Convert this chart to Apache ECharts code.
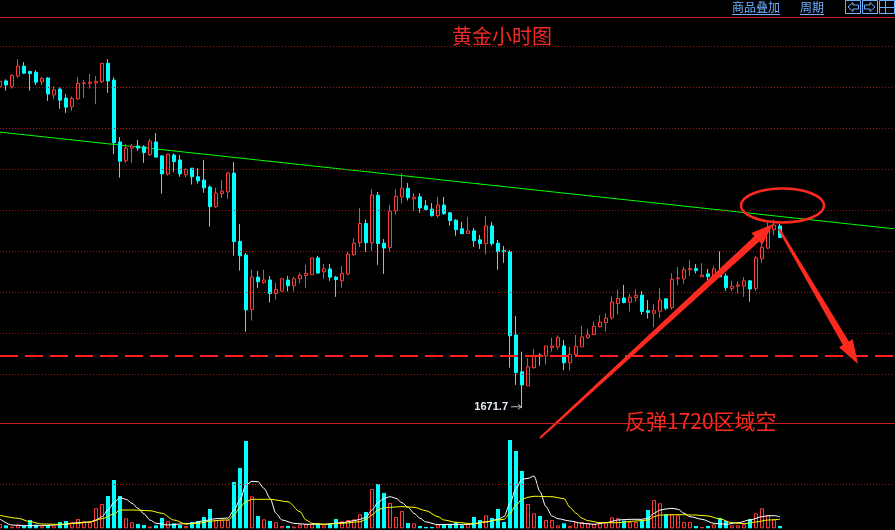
<!DOCTYPE html>
<html><head><meta charset="utf-8">
<script src="https://cdn.jsdelivr.net/npm/echarts@6/dist/echarts.min.js"></script>
<style>html,body{margin:0;padding:0;background:#000;overflow:hidden}#c{width:895px;height:530px}</style>
</head><body><div id="c"></div>
<script>
// ---- DATA (first entry = partially visible bar at the left edge) ----
const opens = [1750.2,1751.6,1750.2,1752.8,1755.2,1753.9,1753.7,1751.4,1752.3,1748.2,1749.6,1747.4,1745.3,1747.2,1751.0,1751.0,1751.1,1751.4,1755.9,1751.8,1736.7,1732.1,1735.2,1735.7,1735.5,1733.6,1736.7,1733.3,1728.9,1733.5,1732.3,1728.7,1730.3,1728.2,1727.4,1725.7,1720.9,1724.1,1724.5,1729.1,1712.4,1709.1,1695.8,1703.7,1702.4,1703.0,1699.7,1700.3,1703.0,1701.6,1703.3,1704.1,1704.3,1708.4,1705.0,1705.7,1703.7,1702.8,1704.5,1709.2,1712.1,1716.8,1712.1,1723.7,1712.0,1710.9,1719.9,1723.3,1725.4,1722.8,1723.3,1721.1,1720.3,1718.7,1721.3,1719.4,1717.6,1715.5,1714.4,1715.0,1712.8,1711.9,1716.2,1712.0,1710.2,1709.9,1689.6,1680.6,1677.2,1681.6,1684.7,1684.5,1686.5,1686.7,1686.9,1682.8,1684.8,1686.7,1689.0,1689.7,1691.6,1692.6,1693.8,1697.3,1698.6,1697.6,1698.7,1699.3,1695.5,1694.9,1695.4,1698.4,1696.3,1703.3,1703.3,1705.5,1705.8,1703.8,1704.5,1703.8,1704.6,1704.0,1700.9,1701.5,1701.5,1702.8,1700.9,1708.2,1710.8,1715.3,1716.2];
const closes = [1751.5,1750.6,1752.9,1755.2,1753.5,1753.4,1751.3,1752.2,1748.4,1749.4,1746.9,1745.2,1747.3,1751.0,1751.1,1751.3,1751.5,1755.9,1751.6,1736.5,1732.0,1735.2,1735.7,1735.2,1734.1,1736.9,1733.0,1728.9,1733.7,1731.9,1728.9,1730.0,1728.2,1727.2,1725.5,1720.9,1724.2,1724.7,1729.1,1712.4,1708.9,1695.7,1703.7,1702.6,1703.0,1699.7,1700.7,1703.3,1701.6,1703.3,1704.2,1704.6,1708.4,1704.7,1705.7,1703.7,1703.1,1704.6,1709.3,1712.0,1716.8,1712.1,1723.7,1711.9,1710.8,1719.8,1723.4,1725.4,1723.1,1723.2,1720.6,1720.2,1718.7,1721.3,1719.2,1717.5,1715.3,1714.3,1715.0,1712.6,1711.9,1716.2,1711.9,1709.9,1709.9,1689.4,1680.4,1677.4,1681.8,1684.6,1684.3,1686.9,1686.9,1688.9,1682.8,1684.9,1686.8,1689.1,1689.6,1691.7,1692.7,1693.7,1697.6,1698.5,1697.5,1698.8,1699.3,1695.3,1695.1,1695.5,1698.1,1696.1,1703.2,1703.5,1705.5,1705.8,1705.3,1704.2,1703.8,1705.7,1703.8,1701.1,1701.5,1701.8,1702.8,1700.8,1708.4,1711.0,1715.4,1716.4,1713.4];
const lows = [1749.8,1749.2,1749.7,1752.4,1753.3,1749.2,1750.6,1750.6,1746.7,1747.2,1744.8,1743.8,1744.3,1747.0,1747.5,1749.7,1745.9,1751.1,1748.7,1733.7,1728.0,1731.6,1731.6,1734.5,1731.6,1733.3,1732.8,1724.1,1728.5,1729.4,1728.2,1728.0,1726.3,1726.5,1724.3,1716.0,1720.6,1723.0,1722.8,1708.9,1705.3,1690.4,1693.1,1701.1,1702.1,1697.5,1698.2,1700.2,1700.2,1700.2,1702.2,1701.1,1704.2,1704.5,1703.3,1702.8,1698.9,1701.1,1704.1,1708.9,1711.1,1709.9,1710.1,1706.7,1704.5,1709.9,1718.9,1721.7,1722.4,1719.9,1719.4,1720.0,1718.5,1718.2,1718.9,1716.3,1713.8,1714.3,1714.3,1711.1,1710.6,1709.2,1711.4,1705.5,1707.2,1681.6,1677.4,1671.7,1677.2,1681.4,1682.1,1682.4,1685.5,1686.0,1681.0,1680.9,1684.8,1686.7,1688.6,1689.7,1691.4,1690.4,1693.3,1694.6,1697.3,1695.3,1697.7,1694.5,1693.6,1691.5,1693.7,1695.6,1695.8,1701.7,1702.1,1704.0,1704.6,1703.8,1703.0,1703.0,1703.7,1700.3,1700.3,1699.7,1698.9,1697.7,1700.3,1707.2,1710.6,1713.9,1713.3];
const highs = [1752.0,1752.0,1753.3,1756.9,1756.2,1754.1,1754.2,1752.6,1752.6,1750.3,1750.0,1748.4,1747.8,1752.5,1751.8,1753.3,1752.8,1756.0,1756.9,1752.5,1737.9,1736.2,1736.2,1737.2,1735.9,1737.4,1738.9,1733.5,1733.8,1733.9,1733.5,1730.3,1730.3,1730.3,1732.3,1726.1,1725.5,1727.4,1729.4,1731.8,1716.7,1709.6,1705.5,1705.2,1705.5,1704.0,1702.3,1703.5,1704.0,1703.8,1704.8,1706.7,1708.5,1708.9,1706.9,1706.9,1704.0,1706.4,1709.9,1713.2,1720.6,1717.8,1725.2,1724.5,1713.0,1721.3,1725.2,1729.1,1726.7,1724.2,1724.2,1722.5,1721.8,1723.3,1723.3,1719.6,1717.9,1717.2,1718.4,1715.7,1714.0,1718.6,1717.2,1712.8,1711.3,1710.3,1694.2,1685.5,1684.0,1686.1,1685.1,1686.9,1688.9,1689.5,1688.4,1686.7,1689.6,1691.8,1691.1,1692.8,1694.4,1694.9,1699.0,1700.7,1701.8,1699.6,1700.7,1700.3,1698.1,1697.1,1701.0,1698.6,1704.7,1706.2,1706.2,1707.9,1706.9,1707.1,1705.7,1706.4,1710.0,1704.6,1702.8,1702.7,1703.7,1703.0,1708.9,1712.1,1717.2,1717.7,1716.7];
const volumes = [980,680,390,840,520,1890,840,390,680,680,1440,1660,1370,2120,1660,1370,4560,5540,7360,11010,7360,2280,1370,980,750,390,680,2350,1600,1140,750,520,1440,1660,2580,4400,1890,1890,1890,10560,13750,19900,7300,2800,2050,1660,1370,520,520,390,840,980,980,1140,680,1140,2120,1600,1890,2050,3190,3720,8960,10100,8050,5770,2580,3940,1210,1140,520,300,300,910,910,910,1370,680,1140,2580,1890,2960,2350,4400,1440,20130,17620,13060,5540,3420,2800,1890,1890,680,1140,520,1440,1440,1140,980,1140,1300,2510,2280,1760,1440,1440,1660,4170,6450,5700,3190,3190,2960,1440,1440,520,300,520,910,2350,1660,680,680,910,2120,3420,4560,2960,2050,520];
// volume average lines: [bar number, value] (bar number counts from the first full bar)
const volAvgWhite = [[-1,2120],[1,750],[3,600],[6,600],[9,820],[12,1280],[14,1440],[15,1890],[16,2650],[17,4170],[18,5840],[19,6980],[20,6610],[21,5700],[22,4560],[23,3260],[24,1890],[25,1140],[27,750],[29,980],[31,1140],[33,1730],[35,2190],[37,2350],[38,4170],[39,6450],[40,9870],[41,10720],[42,10620],[43,9120],[44,6840],[45,3420],[46,1890],[48,1140],[50,910],[53,910],[56,1280],[58,1730],[59,2050],[60,2510],[61,4170],[62,5840],[63,6840],[64,7200],[65,6840],[66,5840],[67,4790],[68,3420],[69,2280],[70,1440],[72,820],[74,890],[77,890],[80,1440],[82,2050],[83,2650],[84,5700],[85,9120],[86,11170],[87,11400],[88,11930],[89,8350],[90,4930],[91,2800],[92,2190],[94,1660],[96,1140],[98,910],[100,1280],[102,1890],[104,2050],[106,2050],[107,2280],[108,3420],[109,4170],[110,4400],[111,4560],[112,4330],[113,3420],[114,2650],[116,2050],[118,1140],[120,910],[122,1280],[124,1890],[126,2650],[127,2870],[128,2870],[129,2650]];
const volAvgYellow = [[-1,2960],[2,2280],[4,1500],[6,980],[9,910],[12,1140],[14,1440],[16,2190],[18,3260],[19,4170],[21,4170],[24,4010],[26,3420],[28,1890],[30,980],[32,1140],[34,1600],[36,1890],[37,1890],[38,3030],[39,4790],[40,6060],[41,6610],[44,6610],[47,6060],[49,3780],[50,1890],[51,1140],[53,910],[56,1140],[59,1500],[60,2050],[61,3030],[62,4170],[63,4700],[66,4930],[68,4790],[70,4010],[72,2650],[73,1890],[75,1370],[78,980],[80,1500],[82,1890],[83,2050],[84,3420],[85,5310],[86,6610],[87,7070],[88,7300],[91,7200],[93,6750],[94,4790],[95,3420],[96,2280],[97,1730],[99,1280],[102,1280],[105,1660],[107,1890],[108,2650],[109,3030],[112,3100],[115,3030],[117,2800],[119,2120],[121,1280],[123,1050],[125,1440],[127,1890],[129,2050]];
const priceLevels = [1680,1690,1700,1710,1720,1730,1740,1750,1760];
const shortLevel = 1684.5;
const trendStart = 1739.1, trendEnd = 1715.5;
const priceMin = 1668.1, priceMax = 1767.2;
const volMax = 24000, volLevel = 10000;
const lowLabel = '1671.7';
const titleText = '黄金小时图';
const noteText = '反弹1720区域空';
const SLOTS = 150;
const categories = Array.from({length: SLOTS}, (_, i) => String(i));

// ---- build ----
const candleData = opens.map((o, i) => [o, closes[i], lows[i], highs[i]]);
const volData = volumes.map((v, i) => ({
  value: v,
  itemStyle: closes[i] >= opens[i]
    ? {color: '#000', borderColor: '#ff3b3b', borderWidth: 1}
    : {color: '#00ffff', borderColor: '#00ffff', borderWidth: 0}
}));
const shift = p => [p[0] + 1, p[1]];
const RED = '#ff2a1f';
const FRAME = '#c81e1e';
const chart = echarts.init(document.getElementById('c'), null, {renderer: 'canvas'});

chart.setOption({
  animation: false,
  backgroundColor: '#000',
  grid: [
    {left: 0, top: 17, width: 894, height: 406, show: false},
    {left: 0, top: 423, width: 894, height: 105.3, show: false}
  ],
  xAxis: [
    {type: 'category', data: categories, gridIndex: 0, boundaryGap: false, show: false, axisLine: {show: false}, axisTick: {show: false}, splitLine: {show: false}},
    {type: 'category', data: categories, gridIndex: 1, boundaryGap: false, show: false, axisLine: {show: false}, axisTick: {show: false}, splitLine: {show: false}}
  ],
  yAxis: [
    {type: 'value', gridIndex: 0, min: priceMin, max: priceMax, show: false, axisLine: {show: false}, splitLine: {show: false}},
    {type: 'value', gridIndex: 1, min: 0, max: volMax, show: false, axisLine: {show: false}, splitLine: {show: false}}
  ],
  series: [
    {
      type: 'candlestick', xAxisIndex: 0, yAxisIndex: 0, data: candleData, barWidth: 4,
      itemStyle: {color: '#000', color0: '#00ffff', borderColor: '#ff3b3b', borderColor0: '#00ffff', borderWidth: 1},
      markLine: {
        silent: true, symbol: ['none', 'none'], label: {show: false}, animation: false,
        lineStyle: {color: '#a31515', type: [1, 2], width: 1},
        data: priceLevels.map(v => ({yAxis: v})).concat([
          {yAxis: shortLevel, lineStyle: {color: '#ff2020', type: [18, 7], width: 2}},
          {yAxis: priceMax, lineStyle: {color: FRAME, type: 'solid', width: 1}},
          {yAxis: priceMin, lineStyle: {color: FRAME, type: 'solid', width: 1}}
        ])
      },
      z: 3
    },
    {
      type: 'line', xAxisIndex: 0, yAxisIndex: 0, data: [[0, trendStart], [SLOTS - 1, trendEnd]],
      symbol: 'none', lineStyle: {color: '#00ff00', width: 1}, z: 2
    },
    {
      type: 'bar', xAxisIndex: 1, yAxisIndex: 1, data: volData, barWidth: 4,
      markLine: {
        silent: true, symbol: ['none', 'none'], label: {show: false},
        lineStyle: {color: '#a31515', type: [1, 2], width: 1},
        data: [{yAxis: volLevel}]
      }
    },
    {
      type: 'line', xAxisIndex: 1, yAxisIndex: 1, data: volAvgWhite.map(shift),
      symbol: 'none', smooth: 0.3, smoothMonotone: 'x', lineStyle: {color: '#ffffff', width: 1}, z: 4
    },
    {
      type: 'line', xAxisIndex: 1, yAxisIndex: 1, data: volAvgYellow.map(shift),
      symbol: 'none', smooth: 0.3, smoothMonotone: 'x', lineStyle: {color: '#ffff00', width: 1}, z: 4
    }
  ]
});

function fatArrow(sx, sy, tx, ty, w0, w1, headLen, headHalf) {
  const dx = tx - sx, dy = ty - sy, L = Math.hypot(dx, dy), ux = dx / L, uy = dy / L, nx = -uy, ny = ux;
  const bx = tx - ux * headLen, by = ty - uy * headLen;
  return [[sx + nx * w0, sy + ny * w0], [bx + nx * w1, by + ny * w1], [bx + nx * headHalf, by + ny * headHalf], [tx, ty],
          [bx - nx * headHalf, by - ny * headHalf], [bx - nx * w1, by - ny * w1], [sx - nx * w0, sy - ny * w0]];
}

const lowIdx = lows.indexOf(Math.min.apply(null, lows));
const lowPt = chart.convertToPixel({gridIndex: 0}, [lowIdx, lows[lowIdx]]);
const topY = Math.round(chart.convertToPixel({gridIndex: 0}, [0, priceMax])[1]);
const botY = Math.round(chart.convertToPixel({gridIndex: 0}, [0, priceMin])[1]);
const BLUE = '#6eb0ff';
const cjk = '"Noto Sans CJK SC", sans-serif';

chart.setOption({
  graphic: [
    // frame lines of the price panel (extend to the right edge)
    {type: 'rect', shape: {x: 0, y: topY, width: 895, height: 1}, style: {fill: FRAME}, z: 100, zlevel: 1},
    {type: 'rect', shape: {x: 0, y: botY, width: 895, height: 1}, style: {fill: FRAME}, z: 100, zlevel: 1},
    // toolbar
    {type: 'text', left: 732, top: 1, style: {text: '商品叠加', fill: BLUE, font: '12px ' + cjk}},
    {type: 'line', shape: {x1: 732, y1: 14.5, x2: 780, y2: 14.5}, style: {stroke: BLUE, lineWidth: 1}},
    {type: 'text', left: 800, top: 1, style: {text: '周期', fill: BLUE, font: '12px ' + cjk}},
    {type: 'line', shape: {x1: 800, y1: 14.5, x2: 824, y2: 14.5}, style: {stroke: BLUE, lineWidth: 1}},
    {type: 'rect', shape: {x: 845.5, y: 0.5, width: 15, height: 13}, style: {fill: 'none', stroke: BLUE, lineWidth: 1}},
    {type: 'rect', shape: {x: 862.5, y: 0.5, width: 15, height: 13}, style: {fill: 'none', stroke: BLUE, lineWidth: 1}},
    {type: 'rect', shape: {x: 879.5, y: 0.5, width: 15, height: 13}, style: {fill: 'none', stroke: BLUE, lineWidth: 1}},
    {type: 'polygon', shape: {points: [[848, 7], [853, 2.5], [853, 5], [858.5, 5], [858.5, 9], [853, 9], [853, 11.5]]}, style: {fill: 'none', stroke: BLUE, lineWidth: 1}},
    {type: 'polygon', shape: {points: [[875, 7], [870, 2.5], [870, 5], [864.5, 5], [864.5, 9], [870, 9], [870, 11.5]]}, style: {fill: 'none', stroke: BLUE, lineWidth: 1}},
    {type: 'line', shape: {x1: 885.5, y1: 1, x2: 885.5, y2: 13}, style: {stroke: BLUE, lineWidth: 1}},
    {type: 'line', shape: {x1: 880, y1: 7.5, x2: 885, y2: 7.5}, style: {stroke: BLUE, lineWidth: 1}},
    {type: 'line', shape: {x1: 886, y1: 7.5, x2: 894, y2: 7.5}, style: {stroke: BLUE, lineWidth: 1}},
    // title
    {type: 'text', x: 502, y: 36, style: {text: titleText, fill: '#f52a24', font: '20px ' + cjk, textAlign: 'center', textVerticalAlign: 'middle'}},
    // low label
    {type: 'text', x: lowPt[0] - 14, y: lowPt[1] - 1, style: {text: lowLabel, fill: '#e6ecff', font: 'bold 11px "Liberation Sans", Arial, sans-serif', textAlign: 'right', textVerticalAlign: 'middle'}},
    {type: 'line', shape: {x1: lowPt[0] - 11, y1: lowPt[1] - 1.5, x2: lowPt[0] - 1, y2: lowPt[1] - 1.5}, style: {stroke: '#bfbfbf', lineWidth: 1}},
    {type: 'polyline', shape: {points: [[lowPt[0] - 4, lowPt[1] - 4], [lowPt[0] - 1, lowPt[1] - 1.5], [lowPt[0] - 4, lowPt[1] + 1]]}, style: {stroke: '#bfbfbf', lineWidth: 1, fill: 'none'}},
    // annotations
    {type: 'ellipse', shape: {cx: 782.5, cy: 205.5, rx: 41.5, ry: 17}, style: {fill: 'none', stroke: RED, lineWidth: 2.5}, z: 50},
    {type: 'polygon', shape: {points: fatArrow(540, 438, 773, 224, 1, 3.5, 22, 8)}, style: {fill: RED}, z: 50},
    {type: 'polygon', shape: {points: fatArrow(779, 229, 858, 364, 1.2, 3.5, 24, 8)}, style: {fill: RED}, z: 50},
    {type: 'text', x: 625, y: 421, style: {text: noteText, fill: RED, font: '21px ' + cjk, textAlign: 'left', textVerticalAlign: 'middle'}, z: 50}
  ]
});
</script>
</body></html>
